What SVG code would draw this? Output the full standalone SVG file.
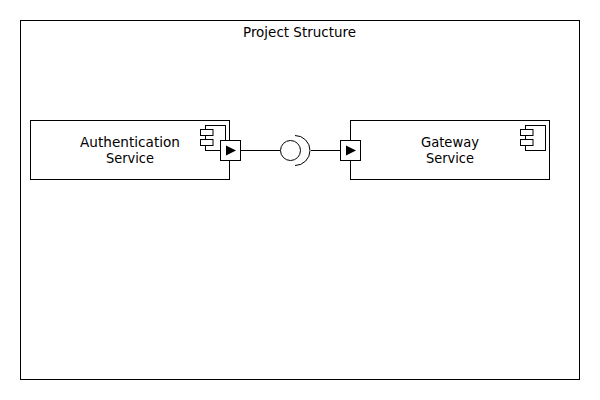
<svg xmlns="http://www.w3.org/2000/svg" width="600" height="400" viewBox="0 0 600 400">
<style>
.s{fill:#fff;stroke:#000;stroke-width:1}
.n{fill:none;stroke:#000;stroke-width:1}
.t{font-family:"DejaVu Sans",sans-serif;font-size:13.5px;fill:#000;text-anchor:middle}
</style>
<rect width="600" height="400" fill="#fff"/>
<g id="project-structure">
<rect class="s" x="20.500" y="20.500" width="559" height="359"/>
<text class="t" x="299.500" y="37" textLength="113" lengthAdjust="spacingAndGlyphs">Project Structure</text>
</g>
<g id="authentication-service">
<rect class="s" x="30.500" y="120.500" width="199" height="59"/>
<rect class="s" x="205.500" y="125.500" width="20" height="25"/>
<rect class="s" x="200.500" y="129.500" width="12.500" height="6"/>
<rect class="s" x="200.500" y="139.500" width="12.500" height="6"/>
<text class="t" x="130" y="147" textLength="100" lengthAdjust="spacingAndGlyphs">Authentication</text>
<text class="t" x="130" y="163" textLength="48" lengthAdjust="spacingAndGlyphs">Service</text>
</g>
<g id="gateway-service">
<rect class="s" x="350.500" y="120.500" width="199" height="59"/>
<rect class="s" x="525.500" y="125.500" width="20" height="25"/>
<rect class="s" x="520.500" y="129.500" width="12.500" height="6"/>
<rect class="s" x="520.500" y="139.500" width="12.500" height="6"/>
<text class="t" x="450" y="147" textLength="58" lengthAdjust="spacingAndGlyphs">Gateway</text>
<text class="t" x="450" y="163" textLength="48" lengthAdjust="spacingAndGlyphs">Service</text>
</g>
<g id="connectors">
<path class="n" d="M240 150.500H280M311 150.500H340"/>
</g>
<g id="port-out">
<rect class="s" x="220.500" y="140.500" width="20" height="20"/>
<polygon points="226,145.500 236,150.500 226,155.500" fill="#000"/>
</g>
<g id="port-in">
<rect class="s" x="340.500" y="140.500" width="20" height="20"/>
<polygon points="346,145.500 356,150.500 346,155.500" fill="#000"/>
</g>
<g id="interface">
<circle class="s" cx="290.500" cy="150.500" r="10"/>
<path class="n" d="M295 135.500A15 15 0 0 1 295 165.500"/>
</g>
</svg>
